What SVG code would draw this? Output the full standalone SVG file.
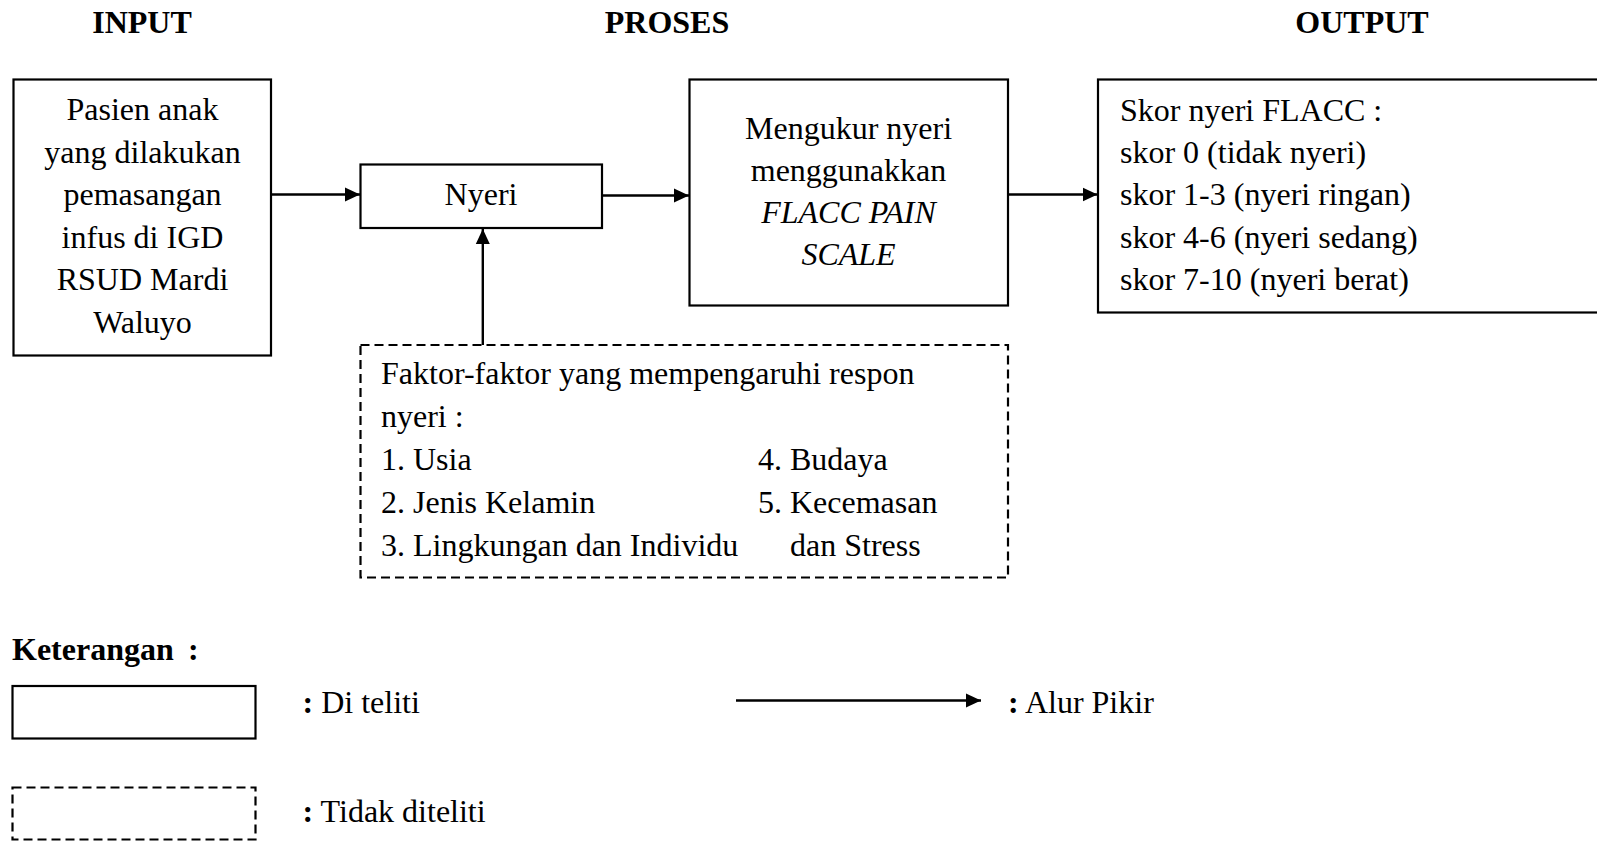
<svg xmlns="http://www.w3.org/2000/svg" width="1597" height="841" viewBox="0 0 1597 841">
<style>
text{font-family:"Liberation Serif","Times New Roman",serif;font-size:32px;fill:#000}
.b{font-weight:bold}
.c{text-anchor:middle}
.i{font-style:italic}
.box{fill:#fff;stroke:#000;stroke-width:2.2}
.dash{fill:#fff;stroke:#000;stroke-width:2.2;stroke-dasharray:9 5}
.ln{stroke:#000;stroke-width:2.4;fill:none}
</style>
<defs>
<marker id="ah" markerUnits="userSpaceOnUse" markerWidth="16" markerHeight="16" viewBox="0 0 16 16" refX="15" refY="8" orient="auto">
<path d="M0,1 L15,8 L0,15 Z" fill="#000"/>
</marker>
</defs>
<g id="titles">
<text class="b c" x="142" y="33">INPUT</text>
<text class="b c" x="667" y="33">PROSES</text>
<text class="b c" x="1362" y="33">OUTPUT</text>
</g>
<g id="input">
<rect class="box" x="13.5" y="79.5" width="257.5" height="276"/>
<text class="c" x="142.5" y="120">Pasien anak</text>
<text class="c" x="142.5" y="162.5">yang dilakukan</text>
<text class="c" x="142.5" y="205">pemasangan</text>
<text class="c" x="142.5" y="247.5">infus di IGD</text>
<text class="c" x="142.5" y="290">RSUD Mardi</text>
<text class="c" x="142.5" y="332.5">Waluyo</text>
</g>
<g id="nyeri">
<rect class="box" x="360.5" y="164.5" width="241.5" height="63.5"/>
<text class="c" x="481" y="205">Nyeri</text>
</g>
<g id="proses">
<rect class="box" x="689.5" y="79.5" width="318.5" height="226"/>
<text class="c" x="848.5" y="139">Mengukur nyeri</text>
<text class="c" x="848.5" y="181">menggunakkan</text>
<text class="c i" x="848.5" y="223">FLACC PAIN</text>
<text class="c i" x="848.5" y="265">SCALE</text>
</g>
<g id="output">
<rect class="box" x="1098" y="79.5" width="510" height="233"/>
<text x="1120" y="120.5">Skor nyeri FLACC :</text>
<text x="1120" y="163">skor 0 (tidak nyeri)</text>
<text x="1120" y="205">skor 1-3 (nyeri ringan)</text>
<text x="1120" y="248">skor 4-6 (nyeri sedang)</text>
<text x="1120" y="290">skor 7-10 (nyeri berat)</text>
</g>
<g id="faktor">
<rect class="dash" x="360.5" y="345" width="647.5" height="232.5"/>
<text x="381" y="384">Faktor-faktor yang mempengaruhi respon</text>
<text x="381" y="427">nyeri :</text>
<text x="381" y="470">1. Usia</text>
<text x="381" y="512.5">2. Jenis Kelamin</text>
<text x="381" y="555.5">3. Lingkungan dan Individu</text>
<text x="758" y="470">4. Budaya</text>
<text x="758" y="512.5">5. Kecemasan</text>
<text x="790" y="555.5">dan Stress</text>
</g>
<g id="connectors">
<line class="ln" x1="271" y1="194.5" x2="360" y2="194.5" marker-end="url(#ah)"/>
<line class="ln" x1="602" y1="195.5" x2="689" y2="195.5" marker-end="url(#ah)"/>
<line class="ln" x1="1008" y1="194.5" x2="1097.5" y2="194.5" marker-end="url(#ah)"/>
<line class="ln" x1="482.8" y1="345" x2="482.8" y2="229" marker-end="url(#ah)"/>
</g>
<g id="legend">
<text class="b" x="12" y="660">Keterangan</text>
<text class="b" x="188" y="660">:</text>
<rect class="box" x="12.5" y="686" width="243" height="52.5"/>
<text x="302.5" y="713"><tspan class="b">:</tspan> Di teliti</text>
<line class="ln" x1="736" y1="700.5" x2="981" y2="700.5" marker-end="url(#ah)"/>
<text x="1008" y="713"><tspan class="b">:</tspan> Alur Pikir</text>
<rect class="dash" x="12.5" y="787.5" width="243" height="52"/>
<text x="302.5" y="822"><tspan class="b">:</tspan> Tidak diteliti</text>
</g>
</svg>
